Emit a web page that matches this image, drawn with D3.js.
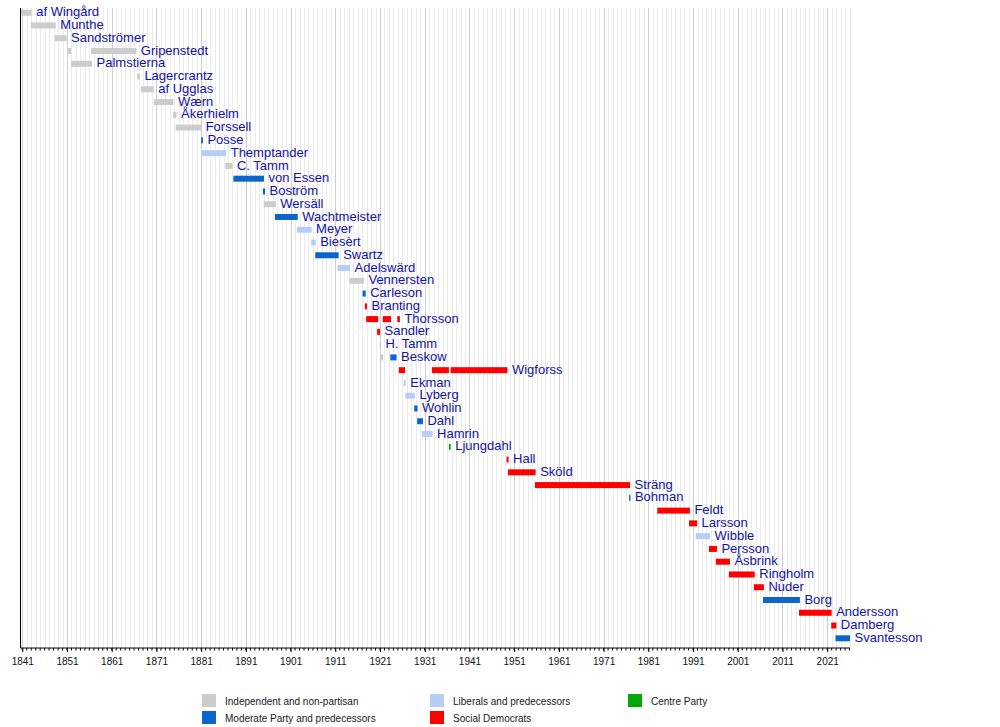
<!DOCTYPE html>
<html>
<head>
<meta charset="utf-8">
<script src="https://cdn.jsdelivr.net/npm/d3@7"></script>
<style>
  body { margin: 0; background: #fff; }
  text { font-family: 'Liberation Sans', Arial, sans-serif; }
</style>
</head>
<body>
<div class="canvas"></div>
<script>
/*--------------------------------
  DATA
--------------------------------*/
const ministers = [
  'af Wingård', 'Munthe', 'Sandströmer', 'Gripenstedt', 'Palmstierna',
  'Lagercrantz', 'af Ugglas', 'Wærn', 'Åkerhielm', 'Forssell', 'Posse',
  'Themptander', 'C. Tamm', 'von Essen', 'Boström', 'Wersäll', 'Wachtmeister',
  'Meyer', 'Biesèrt', 'Swartz', 'Adelswärd', 'Vennersten', 'Carleson',
  'Branting', 'Thorsson', 'Sandler', 'H. Tamm', 'Beskow', 'Wigforss', 'Ekman',
  'Lyberg', 'Wohlin', 'Dahl', 'Hamrin', 'Ljungdahl', 'Hall', 'Sköld', 'Sträng',
  'Bohman', 'Feldt', 'Larsson', 'Wibble', 'Persson', 'Åsbrink', 'Ringholm',
  'Nuder', 'Borg', 'Andersson', 'Damberg', 'Svantesson',
];

// one entry per term (a minister can have several)
const termMinister = [
  'af Wingård', 'Munthe', 'Sandströmer', 'Gripenstedt', 'Gripenstedt',
  'Palmstierna', 'Lagercrantz', 'af Ugglas', 'Wærn', 'Åkerhielm', 'Forssell',
  'Posse', 'Themptander', 'C. Tamm', 'von Essen', 'Boström', 'Wersäll',
  'Wachtmeister', 'Meyer', 'Biesèrt', 'Swartz', 'Adelswärd', 'Vennersten',
  'Carleson', 'Branting', 'Thorsson', 'Thorsson', 'Thorsson', 'Sandler',
  'H. Tamm', 'Beskow', 'Beskow', 'Wigforss', 'Wigforss', 'Wigforss', 'Ekman',
  'Lyberg', 'Wohlin', 'Dahl', 'Hamrin', 'Ljungdahl', 'Hall', 'Sköld', 'Sträng',
  'Bohman', 'Feldt', 'Larsson', 'Wibble', 'Persson', 'Åsbrink', 'Ringholm',
  'Nuder', 'Borg', 'Andersson', 'Damberg', 'Svantesson',
];
const termStart = [
  1840.6, 1842.9, 1848.3, 1851.15, 1856.4,
  1851.9, 1866.7, 1867.5, 1870.4, 1874.7, 1875.3,
  1881.0, 1881.1, 1886.4, 1888.2, 1894.8, 1895.0,
  1897.5, 1902.4, 1905.6, 1906.5, 1911.5, 1914.15,
  1917.1, 1917.6, 1917.9, 1921.6, 1924.85, 1920.35,
  1920.9, 1921.0, 1923.3, 1925.2, 1932.6, 1936.8, 1926.3,
  1926.65, 1928.65, 1929.3, 1930.4, 1936.4, 1949.3, 1949.6, 1955.65,
  1976.7, 1983.0, 1990.1, 1991.6, 1994.55, 1996.1, 1999.0,
  2004.6, 2006.65, 2014.7, 2021.9, 2022.85,
];
const termEnd = [
  1843.1, 1848.5, 1850.9, 1851.9, 1866.5,
  1856.6, 1867.3, 1870.4, 1874.8, 1875.5, 1881.0,
  1881.4, 1886.6, 1888.0, 1895.05, 1895.3, 1897.7,
  1902.6, 1905.7, 1906.6, 1911.75, 1914.3, 1917.4,
  1917.8, 1918.1, 1920.6, 1923.45, 1925.45, 1921.0,
  1921.2, 1921.7, 1924.7, 1926.6, 1936.4, 1949.5, 1926.75,
  1928.8, 1929.4, 1930.6, 1932.75, 1936.8, 1949.75, 1955.8, 1976.9,
  1977.0, 1990.3, 1991.9, 1994.8, 1996.35, 1999.25, 2004.8,
  2006.85, 2014.9, 2022.0, 2023.05, 2026.1,
];
const termParty = [
  'ind', 'ind', 'ind', 'ind', 'ind',
  'ind', 'ind', 'ind', 'ind', 'ind', 'ind',
  'mod', 'lib', 'ind', 'mod', 'mod', 'ind',
  'mod', 'lib', 'lib', 'mod', 'lib', 'ind',
  'mod', 'sd', 'sd', 'sd', 'sd', 'sd',
  'ind', 'ind', 'mod', 'sd', 'sd', 'sd', 'lib',
  'lib', 'mod', 'mod', 'lib', 'c', 'sd', 'sd', 'sd',
  'mod', 'sd', 'sd', 'lib', 'sd', 'sd', 'sd',
  'sd', 'mod', 'sd', 'sd', 'mod',
];

const partyKeys = ['ind', 'mod', 'lib', 'sd', 'c'];
const partyNames = [
  'Independent and non-partisan', 'Moderate Party and predecessors',
  'Liberals and predecessors', 'Social Democrats', 'Centre Party',
];
const partyColors = ['#cccccc', '#0a66cc', '#b8ccf8', '#ff0000', '#00aa00'];

const yearFrom = 1840.6;
const yearTo = 2026.1;
const firstLabelYear = 1841;

/*--------------------------------
  SETUP
--------------------------------*/
const width = 1000;
const height = 727;
const plot = { left: 20.5, right: 850, top: 8, bottom: 648 };

const svg = d3.select('.canvas')
  .append('svg')
  .attr('width', width)
  .attr('height', height);

svg.append('rect')
  .attr('width', width)
  .attr('height', height)
  .attr('fill', '#fff');

const x = d3.scaleLinear()
  .domain([yearFrom, yearTo])
  .range([plot.left, plot.right]);

const y = d3.scalePoint()
  .domain(ministers)
  .range([12.7, 638.3]);

const color = d3.scaleOrdinal()
  .domain(partyKeys)
  .range(partyColors);

const minorYears = d3.range(firstLabelYear, Math.floor(yearTo) + 1);
const majorYears = minorYears.filter(yr => (yr - firstLabelYear) % 10 === 0);

/*--------------------------------
  GRID
--------------------------------*/
const grid = svg.append('g').attr('shape-rendering', 'crispEdges');

grid.selectAll('line.minor')
  .data(minorYears.filter(yr => !majorYears.includes(yr)))
  .enter()
  .append('line')
  .attr('class', 'minor')
  .attr('x1', d => Math.round(x(d)) + 0.5)
  .attr('x2', d => Math.round(x(d)) + 0.5)
  .attr('y1', plot.top)
  .attr('y2', plot.bottom)
  .attr('stroke', '#ebebeb');

grid.selectAll('line.major')
  .data(majorYears)
  .enter()
  .append('line')
  .attr('class', 'major')
  .attr('x1', d => Math.round(x(d)) + 0.5)
  .attr('x2', d => Math.round(x(d)) + 0.5)
  .attr('y1', plot.top)
  .attr('y2', plot.bottom)
  .attr('stroke', '#cfcfcf');

/*--------------------------------
  BARS
--------------------------------*/
const terms = termMinister.map((name, i) => ({
  name, start: termStart[i], end: termEnd[i], party: termParty[i],
}));

const barHeight = 6;

svg.append('g')
  .selectAll('rect')
  .data(terms)
  .enter()
  .append('rect')
  .attr('x', d => x(d.start))
  .attr('y', d => y(d.name) - barHeight / 2)
  .attr('width', d => x(d.end) - x(d.start))
  .attr('height', barHeight)
  .attr('fill', d => color(d.party));

// name label goes after the end of the minister's last term
const lastEnd = d3.rollup(terms, v => d3.max(v, d => d.end), d => d.name);

svg.append('g')
  .selectAll('text')
  .data(ministers)
  .enter()
  .append('text')
  .attr('x', d => x(lastEnd.get(d)) + 4.5)
  .attr('y', d => y(d) + 3.6)
  .attr('font-size', 13)
  .attr('fill', '#1212a8')
  .text(d => d);

/*--------------------------------
  AXIS
--------------------------------*/
const axisGroup = svg.append('g')
  .attr('transform', `translate(0, ${plot.bottom})`);

const xAxis = d3.axisBottom(x)
  .tickValues(majorYears)
  .tickSize(4)
  .tickPadding(6)
  .tickFormat(d3.format('d'));

axisGroup.call(xAxis);
axisGroup.select('.domain').remove();
axisGroup.selectAll('.tick text')
  .attr('font-size', 10)
  .attr('font-family', "'Liberation Sans', Arial, sans-serif")
  .attr('fill', '#111');
axisGroup.selectAll('.tick line').attr('stroke', '#000');

axisGroup.selectAll('line.minor-tick')
  .data(minorYears)
  .enter()
  .append('line')
  .attr('class', 'minor-tick')
  .attr('x1', d => x(d))
  .attr('x2', d => x(d))
  .attr('y1', 0)
  .attr('y2', 2.5)
  .attr('stroke', '#000');

svg.append('line')
  .attr('x1', plot.left)
  .attr('x2', plot.right)
  .attr('y1', plot.bottom)
  .attr('y2', plot.bottom)
  .attr('stroke', '#000');

svg.append('line')
  .attr('x1', plot.left)
  .attr('x2', plot.left)
  .attr('y1', plot.top)
  .attr('y2', plot.bottom)
  .attr('stroke', '#000');

/*--------------------------------
  LEGEND
--------------------------------*/
const legendX = [202, 202, 430, 430, 628];
const legendY = [694, 711, 694, 711, 694];

const legend = svg.append('g')
  .selectAll('g')
  .data(partyKeys)
  .enter()
  .append('g')
  .attr('transform', (d, i) => `translate(${legendX[i]}, ${legendY[i]})`);

legend.append('rect')
  .attr('width', 14)
  .attr('height', 13)
  .attr('fill', d => color(d));

legend.append('text')
  .attr('x', 23)
  .attr('y', 11)
  .attr('font-size', 10)
  .attr('fill', '#1a1a1a')
  .text((d, i) => partyNames[i]);
</script>
</body>
</html>
